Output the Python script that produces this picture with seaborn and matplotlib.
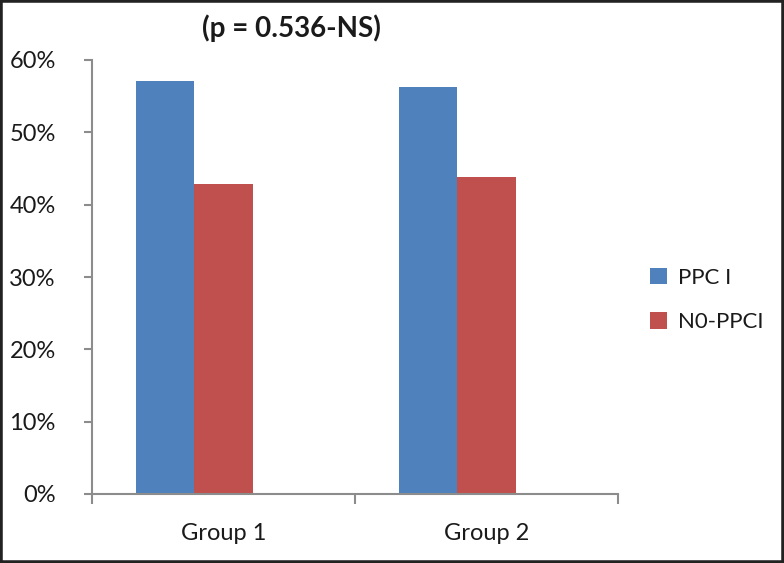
import matplotlib
matplotlib.use("Agg")
import matplotlib.pyplot as plt
from matplotlib.patches import Rectangle
from matplotlib.ticker import PercentFormatter, FixedLocator
import seaborn as sns
import pandas as pd

groups = ["Group 1", "Group 2"]
ppci = [57.1, 56.2]
no_ppci = [42.9, 43.8]
series_names = ["PPC I", "N0-PPCI"]
title_text = "(p = 0.536-NS)"

df = pd.DataFrame({
    "group": groups * 2,
    "series": [series_names[0]] * 2 + [series_names[1]] * 2,
    "value": ppci + no_ppci,
})

sns.set_style("white")
plt.rcParams["font.family"] = ["Lato", "DejaVu Sans"]

fig = plt.figure(figsize=(7.84, 5.63), dpi=100)
ax = fig.add_axes([92 / 784, 69 / 563, 526 / 784, 434 / 563])

# Excel chart had an empty third series slot, so bars sit left of centre
sns.barplot(data=df, x="group", y="value", hue="series",
            hue_order=series_names + ["(empty)"],
            palette=["#4F81BD", "#C0504D", "#FFFFFF"],
            width=0.664, saturation=1, linewidth=0, ax=ax)

handles, labels = ax.get_legend_handles_labels()
if ax.get_legend() is not None:
    ax.get_legend().remove()

ax.set_xlim(-0.5, 1.5)
ax.set_ylim(0, 60)
ax.yaxis.set_major_formatter(PercentFormatter(decimals=0))
ax.set_yticks(range(0, 61, 10))
ax.set_xlabel("")
ax.set_ylabel("")

axis_col = "#8c8c8c"
txt_col = "#1a1a1a"
sns.despine(ax=ax)
for s in ["left", "bottom"]:
    ax.spines[s].set_color(axis_col)
    ax.spines[s].set_linewidth(1.5)

ax.tick_params(axis="y", length=6, width=1.5, color=axis_col, labelsize=17,
               pad=20, left=True, labelcolor=txt_col)
ax.tick_params(axis="x", which="major", length=0, labelsize=17, pad=21,
               labelcolor=txt_col)
ax.xaxis.set_minor_locator(FixedLocator([-0.5, 0.5, 1.5]))
ax.tick_params(axis="x", which="minor", length=7, width=1.5, color=axis_col,
               bottom=True)

fig.text(291 / 784, 1 - 28 / 563, title_text, ha="center", va="center",
         fontsize=20, fontweight="bold", color=txt_col)

fig.legend(handles[:2], series_names, loc="center left",
           bbox_to_anchor=(630 / 784, 1 - 300 / 563), frameon=False,
           fontsize=16, handlelength=0.75, handleheight=0.75,
           handletextpad=0.5, labelspacing=1.1, labelcolor=txt_col)

fig.patches.append(Rectangle((0, 0), 1, 1, transform=fig.transFigure,
                             fill=False, edgecolor="#222222", linewidth=4))

fig.savefig("out.png", dpi=100)
plt.close(fig)
